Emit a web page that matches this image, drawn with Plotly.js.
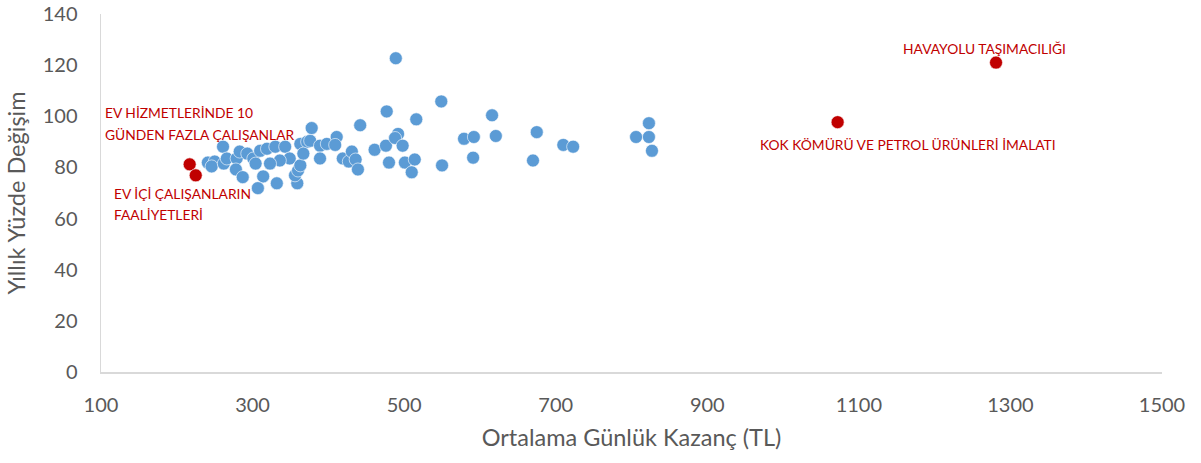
<!DOCTYPE html>
<html>
<head>
<meta charset="utf-8">
<script src="https://cdn.plot.ly/plotly-3.0.1.min.js"></script>
<style>html,body{margin:0;padding:0;background:#fff;}#chart{width:1201px;height:463px;}</style>
</head>
<body>
<div id="chart"></div>
<script>
// Sectors: average daily earnings (TL) vs annual percent change
const blueX = [241,250,246,261,262,266,279,283,278,293,301,287,310,319,330,314,307,332,343,349,336,304,363,372,376,378,389,398,389,411,409,359,356,360,363,367,419,427,431,436,439,442,461,476,480,477,489,492,488,498,501,510,514,516,549,550,579,592,591,616,621,675,670,710,723,806,823,823,827,323];
const blueY = [81.9,82.3,80.4,88.1,81.5,83.5,83.5,86.2,79.2,85.4,83.5,76.2,86.5,87.3,88.1,76.5,71.9,73.8,88.1,83.5,82.7,81.5,89.2,90,90.4,95.4,88.5,89.2,83.5,91.9,88.8,73.8,76.9,78.8,80.8,85.4,83.5,82.3,86.2,83.1,79.2,96.5,86.9,88.5,81.9,101.9,122.7,93.1,91.5,88.5,81.9,78.1,83.1,98.8,105.8,80.8,91.2,91.9,83.8,100.4,92.3,93.8,82.7,88.8,88.1,91.9,97.3,91.9,86.5,81.5];

const redLabels = ["HAVAYOLU TAŞIMACILIĞI","KOK KÖMÜRÜ VE PETROL ÜRÜNLERİ İMALATI","EV HİZMETLERİNDE 10 GÜNDEN FAZLA ÇALIŞANLAR","EV İÇİ ÇALIŞANLARIN FAALİYETLERİ"];
const redX = [1281,1072,217,225];
const redY = [121,97.7,81.2,76.9];

const xTicks = [100,300,500,700,900,1100,1300,1500];
const yTicks = [0,20,40,60,80,100,120,140];

const blueTrace = {
  x: blueX, y: blueY, type: 'scatter', mode: 'markers',
  marker: {color: '#5B9BD5', size: 13, line: {color: '#ffffff', width: 0.6}},
  hoverinfo: 'x+y', cliponaxis: false
};
const redTrace = {
  x: redX, y: redY, text: redLabels, type: 'scatter', mode: 'markers',
  marker: {color: '#C00000', size: 13, line: {color: '#ffffff', width: 0.6}},
  hoverinfo: 'text+x+y', cliponaxis: false
};

const annFont = {family: 'Lato, "Open Sans", sans-serif', size: 13.8, color: '#C00000'};
const annotations = [
  {x: 1266, y: 126.5, text: 'HAVAYOLU TAŞIMACILIĞI', xanchor: 'center', yanchor: 'middle'},
  {x: 1165, y: 88.8, text: 'KOK KÖMÜRÜ VE PETROL ÜRÜNLERİ İMALATI', xanchor: 'center', yanchor: 'middle'},
  {x: 103, y: 101.5, text: 'EV HİZMETLERİNDE 10', xanchor: 'left', yanchor: 'middle'},
  {x: 103, y: 93, text: 'GÜNDEN FAZLA ÇALIŞANLAR', xanchor: 'left', yanchor: 'middle'},
  {x: 115, y: 70, text: 'EV İÇİ ÇALIŞANLARIN', xanchor: 'left', yanchor: 'middle'},
  {x: 115, y: 61.5, text: 'FAALİYETLERİ', xanchor: 'left', yanchor: 'middle'}
].map(a => Object.assign({xref: 'x', yref: 'y', showarrow: false, font: annFont}, a));

const tickFont = {family: 'Lato, "Open Sans", sans-serif', size: 20, color: '#595959'};
const titleFont = {family: 'Lato, "Open Sans", sans-serif', size: 23.5, color: '#595959'};

const layout = {
  width: 1201, height: 463,
  margin: {l: 101, r: 39, t: 14, b: 91},
  paper_bgcolor: '#ffffff', plot_bgcolor: '#ffffff',
  showlegend: false,
  xaxis: {
    range: [100, 1500], tickvals: xTicks, ticktext: xTicks.map(String),
    showgrid: false, zeroline: false, showline: true, linecolor: '#D9D9D9', linewidth: 1.5,
    ticks: 'outside', ticklen: 14, tickcolor: 'rgba(0,0,0,0)', tickfont: tickFont,
    ticklabeloverflow: 'allow',
    title: {text: 'Ortalama Günlük Kazanç (TL)', font: titleFont, standoff: 15}
  },
  yaxis: {
    range: [0, 140], tickvals: yTicks, ticktext: yTicks.map(String),
    showgrid: false, zeroline: false, showline: true, linecolor: '#D9D9D9', linewidth: 1.5,
    ticks: 'outside', ticklen: 18, tickcolor: 'rgba(0,0,0,0)', tickfont: tickFont,
    ticklabeloverflow: 'allow',
    title: {text: 'Yıllık Yüzde Değişim', font: titleFont, standoff: 10}
  },
  annotations: annotations
};

Plotly.newPlot('chart', [blueTrace, redTrace], layout, {displayModeBar: false, staticPlot: true});
</script>
</body>
</html>
